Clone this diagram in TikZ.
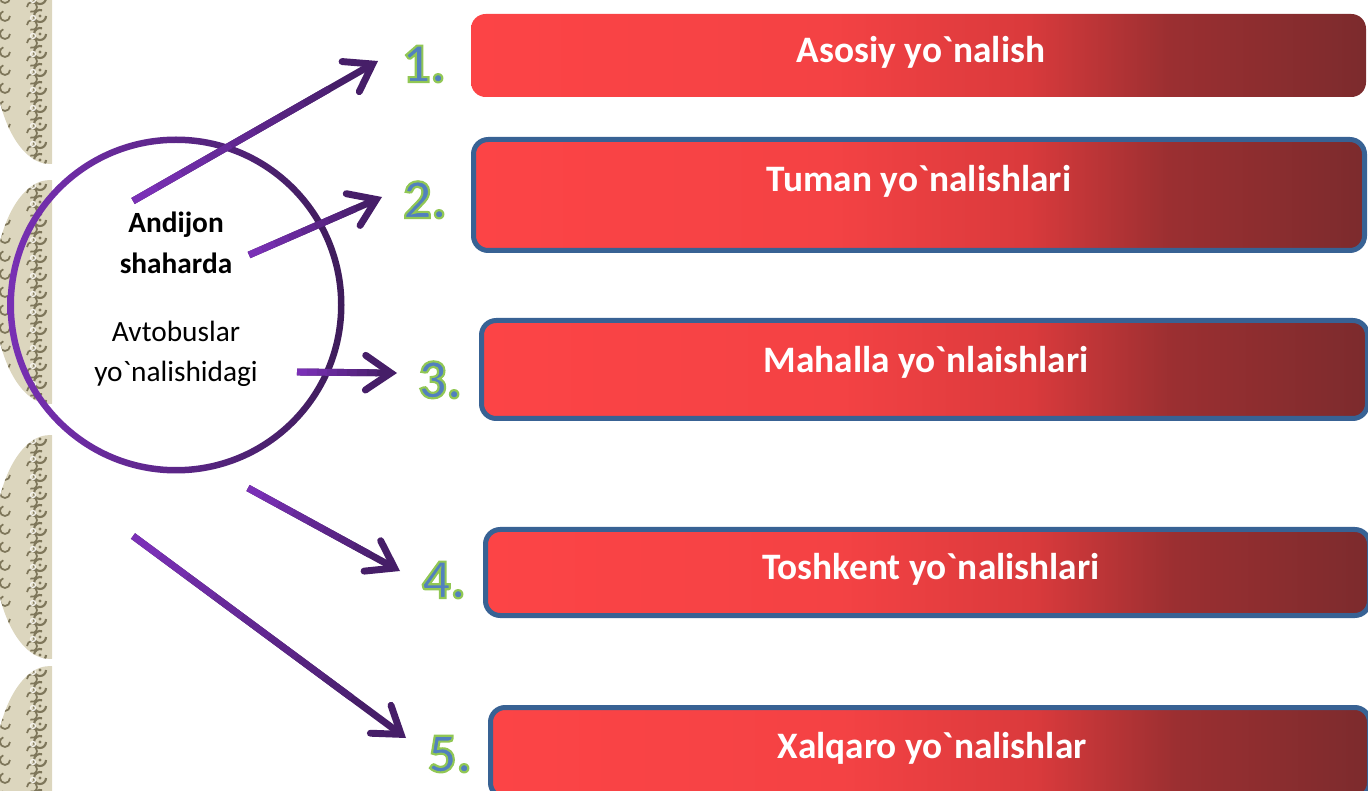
\documentclass[tikz,border=0pt]{standalone}
\usepackage{fontspec}
\setmainfont{Carlito}[Ligatures=TeXOff]
\usepackage{xcolor}
\usetikzlibrary{arrows.meta,calc}

\definecolor{boxred}{RGB}{252,68,70}
\definecolor{boxmid}{RGB}{244,66,68}
\definecolor{boxdeep}{RGB}{218,58,60}
\definecolor{boxbrown}{RGB}{155,47,49}
\definecolor{boxdark}{RGB}{124,43,45}
\definecolor{bordblue}{RGB}{56,98,148}
\definecolor{numblue}{RGB}{82,128,190}
\definecolor{cirlight}{RGB}{120,48,180}
\definecolor{cirdark}{RGB}{62,28,90}
\definecolor{arrlight}{RGB}{122,48,182}
\definecolor{arrdark}{RGB}{70,30,104}
\definecolor{orbeige}{RGB}{220,214,190}
\definecolor{orline}{RGB}{126,118,90}

% stops sit between 25bp and 75bp, the part that covers the box
\pgfdeclarehorizontalshading{boxshade}{100bp}{color(0bp)=(boxred); color(25bp)=(boxred);
  color(45bp)=(boxmid); color(56bp)=(boxdeep); color(64bp)=(boxbrown);
  color(75bp)=(boxdark); color(100bp)=(boxdark)}

% green rim round the numbers (fill, then stroke)
\newcommand\rimnum[1]{\special{pdf:code q 2 Tr 1.6 w 0.57 0.78 0.33 RG}#1\special{pdf:code Q}}

\begin{document}
\begin{tikzpicture}[x=0.75pt, y=-0.75pt,
    box/.style={rounded corners=11pt, shade, shading=boxshade, inner sep=0pt},
    rim/.style={draw=bordblue, line width=3.75pt},
    boxtext/.style={anchor=base, text=white, font=\fontsize{28}{33}\selectfont\bfseries},
    num/.style={anchor=base west, inner sep=0pt, text=numblue, font=\fontsize{42}{48}\selectfont\bfseries},
    city/.style={anchor=base, font=\fontsize{22}{26}\selectfont},
    arr/.style={draw=arrdark, line width=5.2pt,
      -{Straight Barb[length=19pt,width=26pt,line cap=round,line join=miter]}}]
  \useasboundingbox (0,0) rectangle (1368,791);

  % ornament strip on the left
  \begin{scope}
    \clip (0,0) rectangle (52,791);
    \foreach \cy in {52,292,547,778} {
      \begin{scope}
        \clip (50,\cy) ellipse (56 and 112);
        \fill[orbeige] (50,\cy) ellipse (56 and 112);
        \foreach \dy in {-108,-90,...,108} {
          \draw[orline, line width=1.6pt] (46,\cy+\dy) arc[start angle=0, end angle=290, radius=6];
          \draw[orline, line width=1.3pt] (27,\cy+\dy+9) arc[start angle=180, end angle=470, radius=5];
          \draw[orline, line width=1.3pt] (10,\cy+\dy) arc[start angle=0, end angle=250, radius=5];
          \fill[orline] (40,\cy+\dy) circle (1.6);
          \draw[white!70!orbeige, line width=1pt] (33,\cy+\dy+2) circle (2.5);
        }
      \end{scope}
    }
  \end{scope}

  % the boxes
  \node[box, minimum width=895*0.75pt, minimum height=83*0.75pt] (b1) at (918.5,55.5) {};
  \node[box, rim, minimum width=891*0.75pt, minimum height=111*0.75pt] (b2) at (919,195) {};
  \node[box, rim, minimum width=886*0.75pt, minimum height=98*0.75pt] (b3) at (924.5,369.5) {};
  \node[box, rim, minimum width=884*0.75pt, minimum height=86*0.75pt] (b4) at (927.5,572.5) {};
  \node[box, rim, minimum width=879*0.75pt, minimum height=90*0.75pt] (b5) at (930,752.5) {};

  \node[boxtext] (l1) at (921,63) {Asosiy yo`nalish};
  \node[boxtext] (l2) at (919,192) {Tuman yo`nalishlari};
  \node[boxtext] (l3) at (926,373) {Mahalla yo`nlaishlari};
  \node[boxtext] (l4) at (931,580) {Toshkent yo`nalishlari};
  \node[boxtext] (l5) at (932,758) {Xalqaro yo`nalishlar};

  % numbers
  \node[num] (n1) at (402,82) {\rimnum{1.}};
  \node[num] (n2) at (403,218) {\rimnum{2.}};
  \node[num] (n3) at (418,398) {\rimnum{3.}};
  \node[num] (n4) at (422,598) {\rimnum{4.}};
  \node[num] (n5) at (428,772) {\rimnum{5.}};

  % circle
  \coordinate (mid) at (176,305);
  \shade[left color=cirlight, right color=cirdark, even odd rule]
    (mid) circle (168.5) circle (162);
  \node[city, font=\fontsize{22}{26}\selectfont\bfseries] (c1) at (176,233) {Andijon};
  \node[city, font=\fontsize{22}{26}\selectfont\bfseries] (c2) at (176,274) {shaharda};
  \node[city] (c3) at (176,342) {Avtobuslar};
  \node[city] (c4) at (176,382) {yo`nalishidagi};

  % arrows, lighter towards the tail
  \coordinate (t1) at (133,201);  \coordinate (h1) at (378,61);
  \coordinate (t2) at (249,255);  \coordinate (h2) at (382,197);
  \coordinate (t3) at (297,372);  \coordinate (h3) at (397,373);
  \coordinate (t4) at (248,488);  \coordinate (h4) at (400,571);
  \coordinate (t5) at (133,536);  \coordinate (h5) at (406,738);
  \foreach \i in {1,...,5} {
    \draw[arr] (t\i) -- (h\i);
    \foreach \k in {0,...,7} {
      \pgfmathtruncatemacro\shade{100-12*\k}
      \draw[arrlight!\shade!arrdark, line width=5.2pt]
        ($(t\i)!\k/10!(h\i)$) -- ($(t\i)!\k/10+0.1!(h\i)$);
    }
  }
\end{tikzpicture}
\end{document}
